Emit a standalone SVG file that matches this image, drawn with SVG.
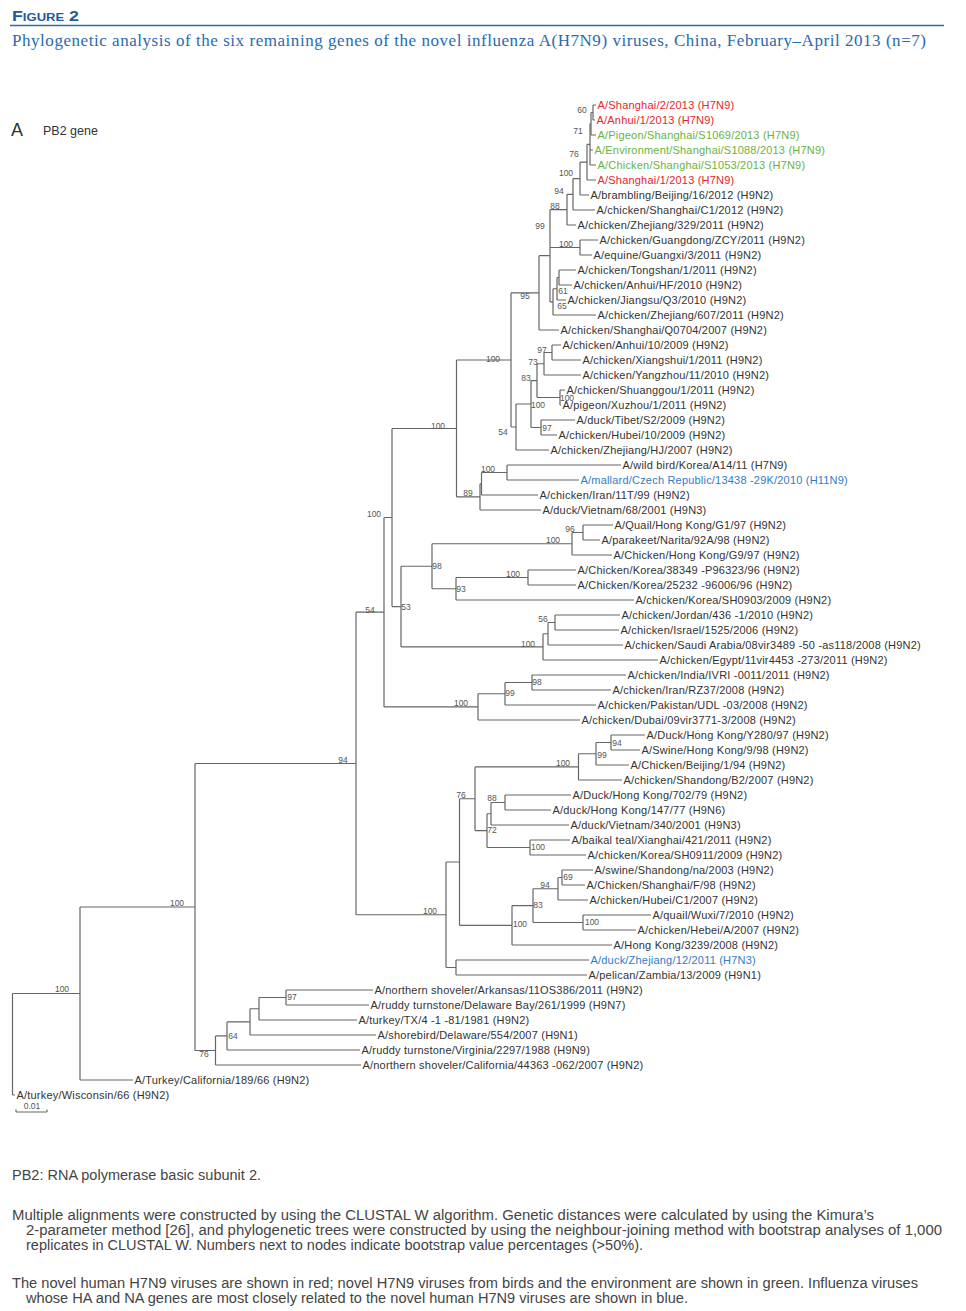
<svg xmlns="http://www.w3.org/2000/svg" width="966" height="1311" viewBox="0 0 966 1311">
<style>
.lf{font-family:"Liberation Sans",Arial,sans-serif;font-size:11px;letter-spacing:0.2px;fill:#333}
.r{fill:#e3262b}.g{fill:#69b23f}.b{fill:#2f7cc6}
.bs{font-family:"Liberation Sans",Arial,sans-serif;font-size:8.5px;fill:#555;text-anchor:middle}
.br path{fill:none;stroke:#666;stroke-width:1.2}
.ft{font-family:"Liberation Sans",Arial,sans-serif;font-size:14px;fill:#444}
</style>
<rect width="966" height="1311" fill="#fff"/>
<g id="header">
<text x="12" y="21" font-family="Liberation Sans,Arial,sans-serif" font-weight="bold" font-size="15" font-variant="small-caps" fill="#1f5b9c" textLength="67" lengthAdjust="spacingAndGlyphs">Figure 2</text>
<line x1="10" y1="25.5" x2="944" y2="25.5" stroke="#2a6db0" stroke-width="1.6"/>
<text x="12" y="46" font-family="Liberation Serif,Times New Roman,serif" font-size="17" fill="#2a6aae" textLength="914" lengthAdjust="spacing">Phylogenetic analysis of the six remaining genes of the novel influenza A(H7N9) viruses, China, February–April 2013 (n=7)</text>
<text x="11" y="136" font-family="Liberation Sans,Arial,sans-serif" font-size="18" fill="#333">A</text>
<text x="43" y="135" font-family="Liberation Sans,Arial,sans-serif" font-size="12.5" fill="#333">PB2 gene</text>
</g>
<g id="branches" class="br">
<path id="n60" d="M593 105V120M593 105H596M593 120H595"/>
<path id="n71" d="M591 112.5V135M591 112.5H593M591 135H596"/>
<path id="nX" d="M590 123.75V165M590 123.75H591M590 150H593M590 165H596"/>
<path id="n76" d="M587 144.4V180M587 144.4H590M587 180H596"/>
<path id="n100a" d="M580 162.2V195M580 162.2H587M580 195H589"/>
<path id="n94" d="M573 178.6V210M573 178.6H580M573 210H595"/>
<path id="n88" d="M567 194.3V225M567 194.3H573M567 225H576"/>
<path id="nG" d="M580 240V255M580 240H598M580 255H592"/>
<path id="nA" d="M559 270V285M559 270H576M559 285H572"/>
<path id="nB" d="M557 277.5V300M557 277.5H559M557 300H566"/>
<path id="nC" d="M553 288.75V315M553 288.75H557M553 315H596"/>
<path id="n99" d="M550 209.6V301.9M550 209.6H567M550 247.5H580M550 301.9H553"/>
<path id="n95" d="M539 255.7V330M539 255.7H550M539 330H559"/>
<path id="n97" d="M552 345V360M552 345H561M552 360H581"/>
<path id="n73" d="M544 352.5V375M544 352.5H552M544 375H581"/>
<path id="n100d" d="M560 390V405M560 390H565M560 405H561"/>
<path id="n83" d="M537 363.75V397.5M537 363.75H544M537 397.5H560"/>
<path id="n97b" d="M541 420V435M541 420H575M541 435H557"/>
<path id="n100c" d="M531 380.6V427.5M531 380.6H537M531 427.5H541"/>
<path id="n54a" d="M516 404V450M516 404H531M516 450H549"/>
<path id="n100b" d="M511 292.9V427M511 292.9H539M511 427H516"/>
<path id="n100e" d="M507 465V480M507 465H621M507 480H579"/>
<path id="nI" d="M481.5 472.5V495M481.5 472.5H507M481.5 495H538"/>
<path id="n89" d="M480 483.75V510M480 483.75H481.5M480 510H541"/>
<path id="n100top" d="M456.5 360V496.9M456.5 360H511M456.5 496.9H480"/>
<path id="n96" d="M583 525V540M583 525H613M583 540H600"/>
<path id="n100q" d="M572 532.5V555M572 532.5H583M572 555H612"/>
<path id="n100k" d="M528 570V585M528 570H576M528 585H576"/>
<path id="n93" d="M456 577.5V600M456 577.5H528M456 600H634"/>
<path id="n98" d="M432 543.75V588.75M432 543.75H572M432 588.75H456"/>
<path id="n56" d="M555 615V630M555 615H620M555 630H619"/>
<path id="nS" d="M548 622.5V645M548 622.5H555M548 645H623"/>
<path id="n100f" d="M543 633.75V660M543 633.75H548M543 660H658"/>
<path id="n53" d="M401 566.25V646.9M401 566.25H432M401 646.9H543"/>
<path id="nP" d="M392 428.5V606.6M392 428.5H456.5M392 606.6H401"/>
<path id="n98b" d="M532 675V690M532 675H626M532 690H611"/>
<path id="n99b" d="M505 682.5V705M505 682.5H532M505 705H596"/>
<path id="n100g" d="M478 693.75V720M478 693.75H505M478 720H580"/>
<path id="n54" d="M384 517.5V706.9M384 517.5H392M384 706.9H478"/>
<path id="n94b" d="M611 735V750M611 735H645M611 750H640"/>
<path id="n99c" d="M596 742.5V765M596 742.5H611M596 765H629"/>
<path id="n100y" d="M578.5 753.75V780M578.5 753.75H596M578.5 780H622"/>
<path id="n702" d="M505 795V810M505 795H571M505 810H551"/>
<path id="n88b" d="M491 802.5V825M491 802.5H505M491 825H569"/>
<path id="n100b2" d="M530 840V855M530 840H570M530 855H586"/>
<path id="n72" d="M487 813.75V847.5M487 813.75H491M487 847.5H530"/>
<path id="n76b" d="M475 766.9V830.6M475 766.9H578.5M475 830.6H487"/>
<path id="n69" d="M562 870V885M562 870H593M562 885H585"/>
<path id="n94c" d="M558 877.5V900M558 877.5H562M558 900H588"/>
<path id="n100w" d="M583 915V930M583 915H651M583 930H636"/>
<path id="n83b" d="M533 888.75V922.5M533 888.75H558M533 922.5H583"/>
<path id="n100hk" d="M512 905.6V945M512 905.6H533M512 945H612"/>
<path id="nQ" d="M459.5 798.75V925.3M459.5 798.75H475M459.5 925.3H512"/>
<path id="nR" d="M456 960V975M456 960H589M456 975H587"/>
<path id="n100h" d="M446 862V967.5M446 862H459.5M446 967.5H456"/>
<path id="n94top" d="M356 612.2V914.75M356 612.2H384M356 914.75H446"/>
<path id="n97c" d="M286 990V1005M286 990H373M286 1005H369"/>
<path id="nTX" d="M259 997.5V1020M259 997.5H286M259 1020H357"/>
<path id="nSB" d="M250 1008.75V1035M250 1008.75H259M250 1035H376"/>
<path id="n64" d="M227 1021.9V1050M227 1021.9H250M227 1050H360"/>
<path id="n76c" d="M215.5 1035.9V1065M215.5 1035.9H227M215.5 1065H361"/>
<path id="n100x" d="M195 763.5V1050.5M195 763.5H356M195 1050.5H215.5"/>
<path id="n100z" d="M80 907V1080M80 907H195M80 1080H133"/>
<path id="root" d="M12.5 993.5V1095M12.5 993.5H80M12.5 1095H15"/>
<path id="scalebar" d="M16 1112H47M16 1109.5V1112M47 1109.5V1112"/>
</g>
<g id="bootstrap">
<text class="bs" x="582" y="113">60</text>
<text class="bs" x="578" y="134">71</text>
<text class="bs" x="574" y="157">76</text>
<text class="bs" x="566" y="176">100</text>
<text class="bs" x="559" y="194">94</text>
<text class="bs" x="555" y="209">88</text>
<text class="bs" x="540" y="229">99</text>
<text class="bs" x="566" y="247">100</text>
<text class="bs" x="563" y="294">61</text>
<text class="bs" x="562" y="309">65</text>
<text class="bs" x="525" y="299">95</text>
<text class="bs" x="493" y="362">100</text>
<text class="bs" x="542" y="353">97</text>
<text class="bs" x="533" y="365">73</text>
<text class="bs" x="526" y="381">83</text>
<text class="bs" x="567" y="401">100</text>
<text class="bs" x="538" y="408">100</text>
<text class="bs" x="547" y="431">97</text>
<text class="bs" x="503" y="435">54</text>
<text class="bs" x="438" y="429">100</text>
<text class="bs" x="488" y="472">100</text>
<text class="bs" x="468" y="496">89</text>
<text class="bs" x="374" y="517">100</text>
<text class="bs" x="570" y="532">96</text>
<text class="bs" x="553" y="543">100</text>
<text class="bs" x="437" y="569">98</text>
<text class="bs" x="513" y="577">100</text>
<text class="bs" x="461" y="592">93</text>
<text class="bs" x="406" y="610">53</text>
<text class="bs" x="370" y="613">54</text>
<text class="bs" x="543" y="622">56</text>
<text class="bs" x="528" y="647">100</text>
<text class="bs" x="537" y="685">98</text>
<text class="bs" x="510" y="696">99</text>
<text class="bs" x="461" y="706">100</text>
<text class="bs" x="343" y="763">94</text>
<text class="bs" x="617" y="746">94</text>
<text class="bs" x="602" y="758">99</text>
<text class="bs" x="563" y="766">100</text>
<text class="bs" x="461" y="798">76</text>
<text class="bs" x="492" y="801">88</text>
<text class="bs" x="492" y="833">72</text>
<text class="bs" x="538" y="850">100</text>
<text class="bs" x="568" y="880">69</text>
<text class="bs" x="545" y="888">94</text>
<text class="bs" x="538" y="908">83</text>
<text class="bs" x="430" y="914">100</text>
<text class="bs" x="520" y="927">100</text>
<text class="bs" x="592" y="925">100</text>
<text class="bs" x="177" y="906">100</text>
<text class="bs" x="62" y="992">100</text>
<text class="bs" x="292" y="1000">97</text>
<text class="bs" x="233" y="1039">64</text>
<text class="bs" x="204" y="1057">76</text>
<text class="bs" x="32" y="1109">0.01</text>
</g>
<g id="leaves">
<g id="leaf-00"><text class="lf r" x="597.5" y="109">A/Shanghai/2/2013 (H7N9)</text></g>
<g id="leaf-01"><text class="lf r" x="596.5" y="124">A/Anhui/1/2013 (H7N9)</text></g>
<g id="leaf-02"><text class="lf g" x="597.5" y="139">A/Pigeon/Shanghai/S1069/2013 (H7N9)</text></g>
<g id="leaf-03"><text class="lf g" x="594.5" y="154">A/Environment/Shanghai/S1088/2013 (H7N9)</text></g>
<g id="leaf-04"><text class="lf g" x="597.5" y="169">A/Chicken/Shanghai/S1053/2013 (H7N9)</text></g>
<g id="leaf-05"><text class="lf r" x="597.5" y="184">A/Shanghai/1/2013 (H7N9)</text></g>
<g id="leaf-06"><text class="lf" x="590.5" y="199">A/brambling/Beijing/16/2012 (H9N2)</text></g>
<g id="leaf-07"><text class="lf" x="596.5" y="214">A/chicken/Shanghai/C1/2012 (H9N2)</text></g>
<g id="leaf-08"><text class="lf" x="577.5" y="229">A/chicken/Zhejiang/329/2011 (H9N2)</text></g>
<g id="leaf-09"><text class="lf" x="599.5" y="244">A/chicken/Guangdong/ZCY/2011 (H9N2)</text></g>
<g id="leaf-10"><text class="lf" x="593.5" y="259">A/equine/Guangxi/3/2011 (H9N2)</text></g>
<g id="leaf-11"><text class="lf" x="577.5" y="274">A/chicken/Tongshan/1/2011 (H9N2)</text></g>
<g id="leaf-12"><text class="lf" x="573.5" y="289">A/chicken/Anhui/HF/2010 (H9N2)</text></g>
<g id="leaf-13"><text class="lf" x="567.5" y="304">A/chicken/Jiangsu/Q3/2010 (H9N2)</text></g>
<g id="leaf-14"><text class="lf" x="597.5" y="319">A/chicken/Zhejiang/607/2011 (H9N2)</text></g>
<g id="leaf-15"><text class="lf" x="560.5" y="334">A/chicken/Shanghai/Q0704/2007 (H9N2)</text></g>
<g id="leaf-16"><text class="lf" x="562.5" y="349">A/chicken/Anhui/10/2009 (H9N2)</text></g>
<g id="leaf-17"><text class="lf" x="582.5" y="364">A/chicken/Xiangshui/1/2011 (H9N2)</text></g>
<g id="leaf-18"><text class="lf" x="582.5" y="379">A/chicken/Yangzhou/11/2010 (H9N2)</text></g>
<g id="leaf-19"><text class="lf" x="566.5" y="394">A/chicken/Shuanggou/1/2011 (H9N2)</text></g>
<g id="leaf-20"><text class="lf" x="562.5" y="409">A/pigeon/Xuzhou/1/2011 (H9N2)</text></g>
<g id="leaf-21"><text class="lf" x="576.5" y="424">A/duck/Tibet/S2/2009 (H9N2)</text></g>
<g id="leaf-22"><text class="lf" x="558.5" y="439">A/chicken/Hubei/10/2009 (H9N2)</text></g>
<g id="leaf-23"><text class="lf" x="550.5" y="454">A/chicken/Zhejiang/HJ/2007 (H9N2)</text></g>
<g id="leaf-24"><text class="lf" x="622.5" y="469">A/wild bird/Korea/A14/11 (H7N9)</text></g>
<g id="leaf-25"><text class="lf b" x="580.5" y="484">A/mallard/Czech Republic/13438 -29K/2010 (H11N9)</text></g>
<g id="leaf-26"><text class="lf" x="539.5" y="499">A/chicken/Iran/11T/99 (H9N2)</text></g>
<g id="leaf-27"><text class="lf" x="542.5" y="514">A/duck/Vietnam/68/2001 (H9N3)</text></g>
<g id="leaf-28"><text class="lf" x="614.5" y="529">A/Quail/Hong Kong/G1/97 (H9N2)</text></g>
<g id="leaf-29"><text class="lf" x="601.5" y="544">A/parakeet/Narita/92A/98 (H9N2)</text></g>
<g id="leaf-30"><text class="lf" x="613.5" y="559">A/Chicken/Hong Kong/G9/97 (H9N2)</text></g>
<g id="leaf-31"><text class="lf" x="577.5" y="574">A/Chicken/Korea/38349 -P96323/96 (H9N2)</text></g>
<g id="leaf-32"><text class="lf" x="577.5" y="589">A/Chicken/Korea/25232 -96006/96 (H9N2)</text></g>
<g id="leaf-33"><text class="lf" x="635.5" y="604">A/chicken/Korea/SH0903/2009 (H9N2)</text></g>
<g id="leaf-34"><text class="lf" x="621.5" y="619">A/chicken/Jordan/436 -1/2010 (H9N2)</text></g>
<g id="leaf-35"><text class="lf" x="620.5" y="634">A/chicken/Israel/1525/2006 (H9N2)</text></g>
<g id="leaf-36"><text class="lf" x="624.5" y="649">A/chicken/Saudi Arabia/08vir3489 -50 -as118/2008 (H9N2)</text></g>
<g id="leaf-37"><text class="lf" x="659.5" y="664">A/chicken/Egypt/11vir4453 -273/2011 (H9N2)</text></g>
<g id="leaf-38"><text class="lf" x="627.5" y="679">A/chicken/India/IVRI -0011/2011 (H9N2)</text></g>
<g id="leaf-39"><text class="lf" x="612.5" y="694">A/chicken/Iran/RZ37/2008 (H9N2)</text></g>
<g id="leaf-40"><text class="lf" x="597.5" y="709">A/chicken/Pakistan/UDL -03/2008 (H9N2)</text></g>
<g id="leaf-41"><text class="lf" x="581.5" y="724">A/chicken/Dubai/09vir3771-3/2008 (H9N2)</text></g>
<g id="leaf-42"><text class="lf" x="646.5" y="739">A/Duck/Hong Kong/Y280/97 (H9N2)</text></g>
<g id="leaf-43"><text class="lf" x="641.5" y="754">A/Swine/Hong Kong/9/98 (H9N2)</text></g>
<g id="leaf-44"><text class="lf" x="630.5" y="769">A/Chicken/Beijing/1/94 (H9N2)</text></g>
<g id="leaf-45"><text class="lf" x="623.5" y="784">A/chicken/Shandong/B2/2007 (H9N2)</text></g>
<g id="leaf-46"><text class="lf" x="572.5" y="799">A/Duck/Hong Kong/702/79 (H9N2)</text></g>
<g id="leaf-47"><text class="lf" x="552.5" y="814">A/duck/Hong Kong/147/77 (H9N6)</text></g>
<g id="leaf-48"><text class="lf" x="570.5" y="829">A/duck/Vietnam/340/2001 (H9N3)</text></g>
<g id="leaf-49"><text class="lf" x="571.5" y="844">A/baikal teal/Xianghai/421/2011 (H9N2)</text></g>
<g id="leaf-50"><text class="lf" x="587.5" y="859">A/chicken/Korea/SH0911/2009 (H9N2)</text></g>
<g id="leaf-51"><text class="lf" x="594.5" y="874">A/swine/Shandong/na/2003 (H9N2)</text></g>
<g id="leaf-52"><text class="lf" x="586.5" y="889">A/Chicken/Shanghai/F/98 (H9N2)</text></g>
<g id="leaf-53"><text class="lf" x="589.5" y="904">A/chicken/Hubei/C1/2007 (H9N2)</text></g>
<g id="leaf-54"><text class="lf" x="652.5" y="919">A/quail/Wuxi/7/2010 (H9N2)</text></g>
<g id="leaf-55"><text class="lf" x="637.5" y="934">A/chicken/Hebei/A/2007 (H9N2)</text></g>
<g id="leaf-56"><text class="lf" x="613.5" y="949">A/Hong Kong/3239/2008 (H9N2)</text></g>
<g id="leaf-57"><text class="lf b" x="590.5" y="964">A/duck/Zhejiang/12/2011 (H7N3)</text></g>
<g id="leaf-58"><text class="lf" x="588.5" y="979">A/pelican/Zambia/13/2009 (H9N1)</text></g>
<g id="leaf-59"><text class="lf" x="374.5" y="994">A/northern shoveler/Arkansas/11OS386/2011 (H9N2)</text></g>
<g id="leaf-60"><text class="lf" x="370.5" y="1009">A/ruddy turnstone/Delaware Bay/261/1999 (H9N7)</text></g>
<g id="leaf-61"><text class="lf" x="358.5" y="1024">A/turkey/TX/4 -1 -81/1981 (H9N2)</text></g>
<g id="leaf-62"><text class="lf" x="377.5" y="1039">A/shorebird/Delaware/554/2007 (H9N1)</text></g>
<g id="leaf-63"><text class="lf" x="361.5" y="1054">A/ruddy turnstone/Virginia/2297/1988 (H9N9)</text></g>
<g id="leaf-64"><text class="lf" x="362.5" y="1069">A/northern shoveler/California/44363 -062/2007 (H9N2)</text></g>
<g id="leaf-65"><text class="lf" x="134.5" y="1084">A/Turkey/California/189/66 (H9N2)</text></g>
<g id="leaf-66"><text class="lf" x="16.5" y="1099">A/turkey/Wisconsin/66 (H9N2)</text></g>
</g>
<g id="footer">
<text class="ft" x="12" y="1180" textLength="249" lengthAdjust="spacingAndGlyphs">PB2: RNA polymerase basic subunit 2.</text>
<text class="ft" x="12" y="1219.5" textLength="862" lengthAdjust="spacingAndGlyphs">Multiple alignments were constructed by using the CLUSTAL W algorithm. Genetic distances were calculated by using the Kimura’s</text>
<text class="ft" x="26" y="1234.5" textLength="916" lengthAdjust="spacingAndGlyphs">2-parameter method [26], and phylogenetic trees were constructed by using the neighbour-joining method with bootstrap analyses of 1,000</text>
<text class="ft" x="26" y="1249.5" textLength="617" lengthAdjust="spacingAndGlyphs">replicates in CLUSTAL W. Numbers next to nodes indicate bootstrap value percentages (&gt;50%).</text>
<text class="ft" x="12" y="1288" textLength="906" lengthAdjust="spacingAndGlyphs">The novel human H7N9 viruses are shown in red; novel H7N9 viruses from birds and the environment are shown in green. Influenza viruses</text>
<text class="ft" x="26" y="1303" textLength="662" lengthAdjust="spacingAndGlyphs">whose HA and NA genes are most closely related to the novel human H7N9 viruses are shown in blue.</text>
</g>
</svg>
